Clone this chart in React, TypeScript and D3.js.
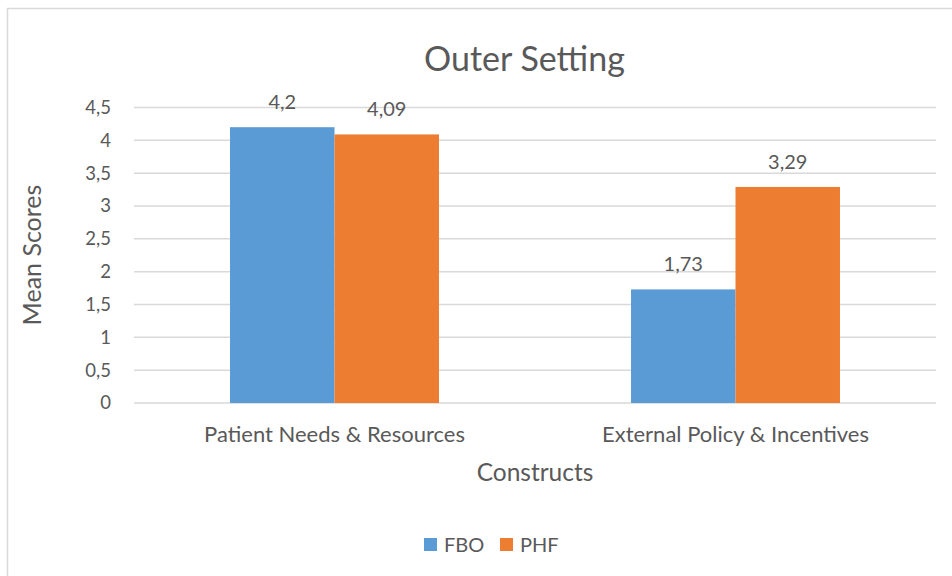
import * as d3 from "d3";

const categories = ["Patient Needs & Resources", "External Policy & Incentives"];
const seriesNames = ["FBO", "PHF"];
const fboValues = [4.2, 1.73];
const phfValues = [4.09, 3.29];
const yTicks = [0, 0.5, 1, 1.5, 2, 2.5, 3, 3.5, 4, 4.5];

const COLORS = ["#5B9BD5", "#ED7D31"];
const TEXT = "#595959";
const GRID = "#D9D9D9";
const FONT = "Lato, 'Open Sans', sans-serif";

const WIDTH = 952;
const HEIGHT = 576;
const PLOT = { left: 134, right: 936, top: 107.5, bottom: 403 };

const fmt = (v: number) => String(v).replace(".", ",");

export default function App() {
  const x0 = d3
    .scaleBand<string>()
    .domain(categories)
    .range([PLOT.left, PLOT.right]);

  const x1 = d3
    .scaleBand<string>()
    .domain(seriesNames)
    .range([0, x0.bandwidth()])
    .paddingInner(0)
    .paddingOuter(0.919);

  const y = d3.scaleLinear().domain([0, 4.5]).range([PLOT.bottom, PLOT.top]);

  const rows = categories.map((c, i) => ({
    category: c,
    values: [fboValues[i], phfValues[i]],
  }));

  return (
    <svg
      width={WIDTH}
      height={HEIGHT}
      style={{ position: "absolute", left: 0, top: 0 }}
      fontFamily={FONT}
    >
      <rect x={0} y={0} width={WIDTH} height={HEIGHT} fill="#fff" />
      {/* chart frame, runs off the right and bottom edges */}
      <rect
        x={7.5}
        y={8.5}
        width={1100}
        height={700}
        fill="none"
        stroke={GRID}
        strokeWidth={1.5}
      />

      <text x={524.5} y={71} textAnchor="middle" fontSize={34} fill={TEXT}>
        Outer Setting
      </text>

      {/* gridlines and y ticks */}
      {yTicks.map((t) => (
        <g key={t}>
          <line
            x1={PLOT.left}
            x2={PLOT.right}
            y1={y(t)}
            y2={y(t)}
            stroke={GRID}
            strokeWidth={1.5}
          />
          <text
            x={111}
            y={y(t)}
            dy="0.35em"
            textAnchor="end"
            fontSize={18.5}
            fill={TEXT}
          >
            {fmt(t)}
          </text>
        </g>
      ))}

      {/* bars */}
      {rows.map((r) => (
        <g key={r.category} transform={`translate(${x0(r.category)},0)`}>
          {r.values.map((v, j) => {
            const bx = x1(seriesNames[j]) as number;
            return (
              <g key={j}>
                <rect
                  x={bx}
                  y={y(v)}
                  width={x1.bandwidth()}
                  height={y(0) - y(v)}
                  fill={COLORS[j]}
                />
                <text
                  x={bx + x1.bandwidth() / 2}
                  y={y(v) - 18}
                  textAnchor="middle"
                  fontSize={20}
                  fill={TEXT}
                >
                  {fmt(v)}
                </text>
              </g>
            );
          })}
          <text
            x={x0.bandwidth() / 2}
            y={442}
            textAnchor="middle"
            fontSize={22}
            fill={TEXT}
          >
            {r.category}
          </text>
        </g>
      ))}

      {/* axis titles */}
      <text x={535} y={481} textAnchor="middle" fontSize={24.5} fill={TEXT}>
        Constructs
      </text>
      <text
        transform={`translate(41,255) rotate(-90)`}
        textAnchor="middle"
        fontSize={25}
        fill={TEXT}
      >
        Mean Scores
      </text>

      {/* legend */}
      {seriesNames.map((s, i) => {
        const lx = i === 0 ? 424 : 500;
        return (
          <g key={s} transform={`translate(${lx},538)`}>
            <rect width={13} height={13} fill={COLORS[i]} />
            <text x={20} y={6.5} dy="0.35em" fontSize={20} fill={TEXT}>
              {s}
            </text>
          </g>
        );
      })}
    </svg>
  );
}
